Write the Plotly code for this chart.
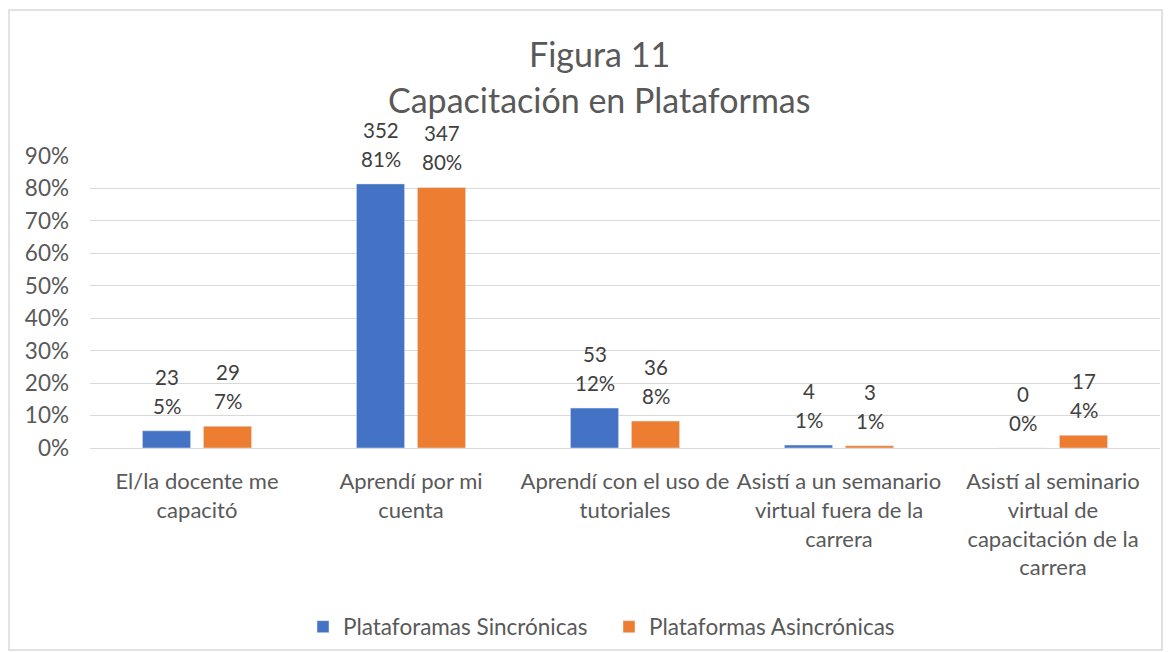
import plotly.graph_objects as go

categories = [
    "El/la docente me<br>capacitó",
    "Aprendí por mi<br>cuenta",
    "Aprendí con el uso de<br>tutoriales",
    "Asistí a un semanario<br>virtual fuera de la<br>carrera",
    "Asistí al seminario<br>virtual de<br>capacitación de la<br>carrera",
]
sinc_counts = [23, 352, 53, 4, 0]
sinc_pct = [0.053, 0.814, 0.123, 0.009, 0.0]
asinc_counts = [29, 347, 36, 3, 17]
asinc_pct = [0.067, 0.803, 0.083, 0.007, 0.039]
y_ticks = [0, 0.1, 0.2, 0.3, 0.4, 0.5, 0.6, 0.7, 0.8, 0.9]

FONT = "Lato"
OFF = 8  # page body margin
W, H = 1175 - 2 * OFF, 652 - OFF
# plot area in reference pixel coords
PL, PR, PT, PB = 90, 1160, 156, 448
L, R, T, B = PL - OFF, W - (PR - OFF), PT - OFF, H - (PB - OFF)
pw, ph = PR - PL, PB - PT

def px_x(p):
    return (p - PL) / pw

def px_y(p):
    return (PB - p) / ph

series = [
    ("Plataforamas Sincrónicas", sinc_pct, sinc_counts, "#4472C4", -30.5),
    ("Plataformas Asincrónicas", asinc_pct, asinc_counts, "#ED7D31", 30.5),
]

fig = go.Figure()
for name, vals, counts, color, dx in series:
    fig.add_trace(go.Bar(name=name, x=categories, y=vals, marker_color=color))
    for cat, v, c in zip(categories, vals, counts):
        fig.add_annotation(x=cat, y=v, text=f"{v:.0%}", showarrow=False,
                           xshift=dx, yshift=25, yanchor="middle",
                           font=dict(family=FONT, size=20.5, color="#404040"))
        fig.add_annotation(x=cat, y=v, text=str(c), showarrow=False,
                           xshift=dx, yshift=54, yanchor="middle",
                           font=dict(family=FONT, size=20.5, color="#404040"))

fig.update_layout(
    width=W, height=H,
    margin=dict(l=L, r=R, t=T, b=B, autoexpand=False),
    paper_bgcolor="white", plot_bgcolor="white",
    barmode="group", bargap=0.43, bargroupgap=0.21,
    font=dict(family=FONT, color="#595959", size=22.5),
    showlegend=True,
    legend=dict(orientation="h", x=px_x(303), xanchor="left", y=px_y(627), yanchor="middle",
                bgcolor="rgba(0,0,0,0)",
                font=dict(family=FONT, size=22.5, color="#595959"),
                itemwidth=30, entrywidth=261, traceorder="normal"),
)
fig.update_xaxes(showline=True, linecolor="#D9D9D9", linewidth=1, ticks="",
                 tickfont=dict(family=FONT, size=22, color="#595959"),
                 ticklabelstandoff=14)
fig.update_yaxes(range=[0, 0.9], tickvals=y_ticks, tickformat=".0%",
                 showgrid=True, gridcolor="#D9D9D9", gridwidth=1, zeroline=False,
                 showline=False, ticks="",
                 tickfont=dict(family=FONT, size=22.5, color="#595959"),
                 ticklabelstandoff=20)

fig.add_annotation(text="Figura 11", xref="paper", yref="paper",
                   x=px_x(599), y=px_y(54), showarrow=False,
                   font=dict(family=FONT, size=34, color="#595959"),
                   xanchor="center", yanchor="middle")
fig.add_annotation(text="Capacitación en Plataformas", xref="paper", yref="paper",
                   x=px_x(599), y=px_y(100), showarrow=False,
                   font=dict(family=FONT, size=34, color="#595959"),
                   xanchor="center", yanchor="middle")

fig.add_shape(type="rect", xref="paper", yref="paper",
              x0=px_x(9), x1=px_x(1162), y0=px_y(650), y1=px_y(10),
              line=dict(color="#D9D9D9", width=1.5), layer="below")

fig.write_html("out.html")
